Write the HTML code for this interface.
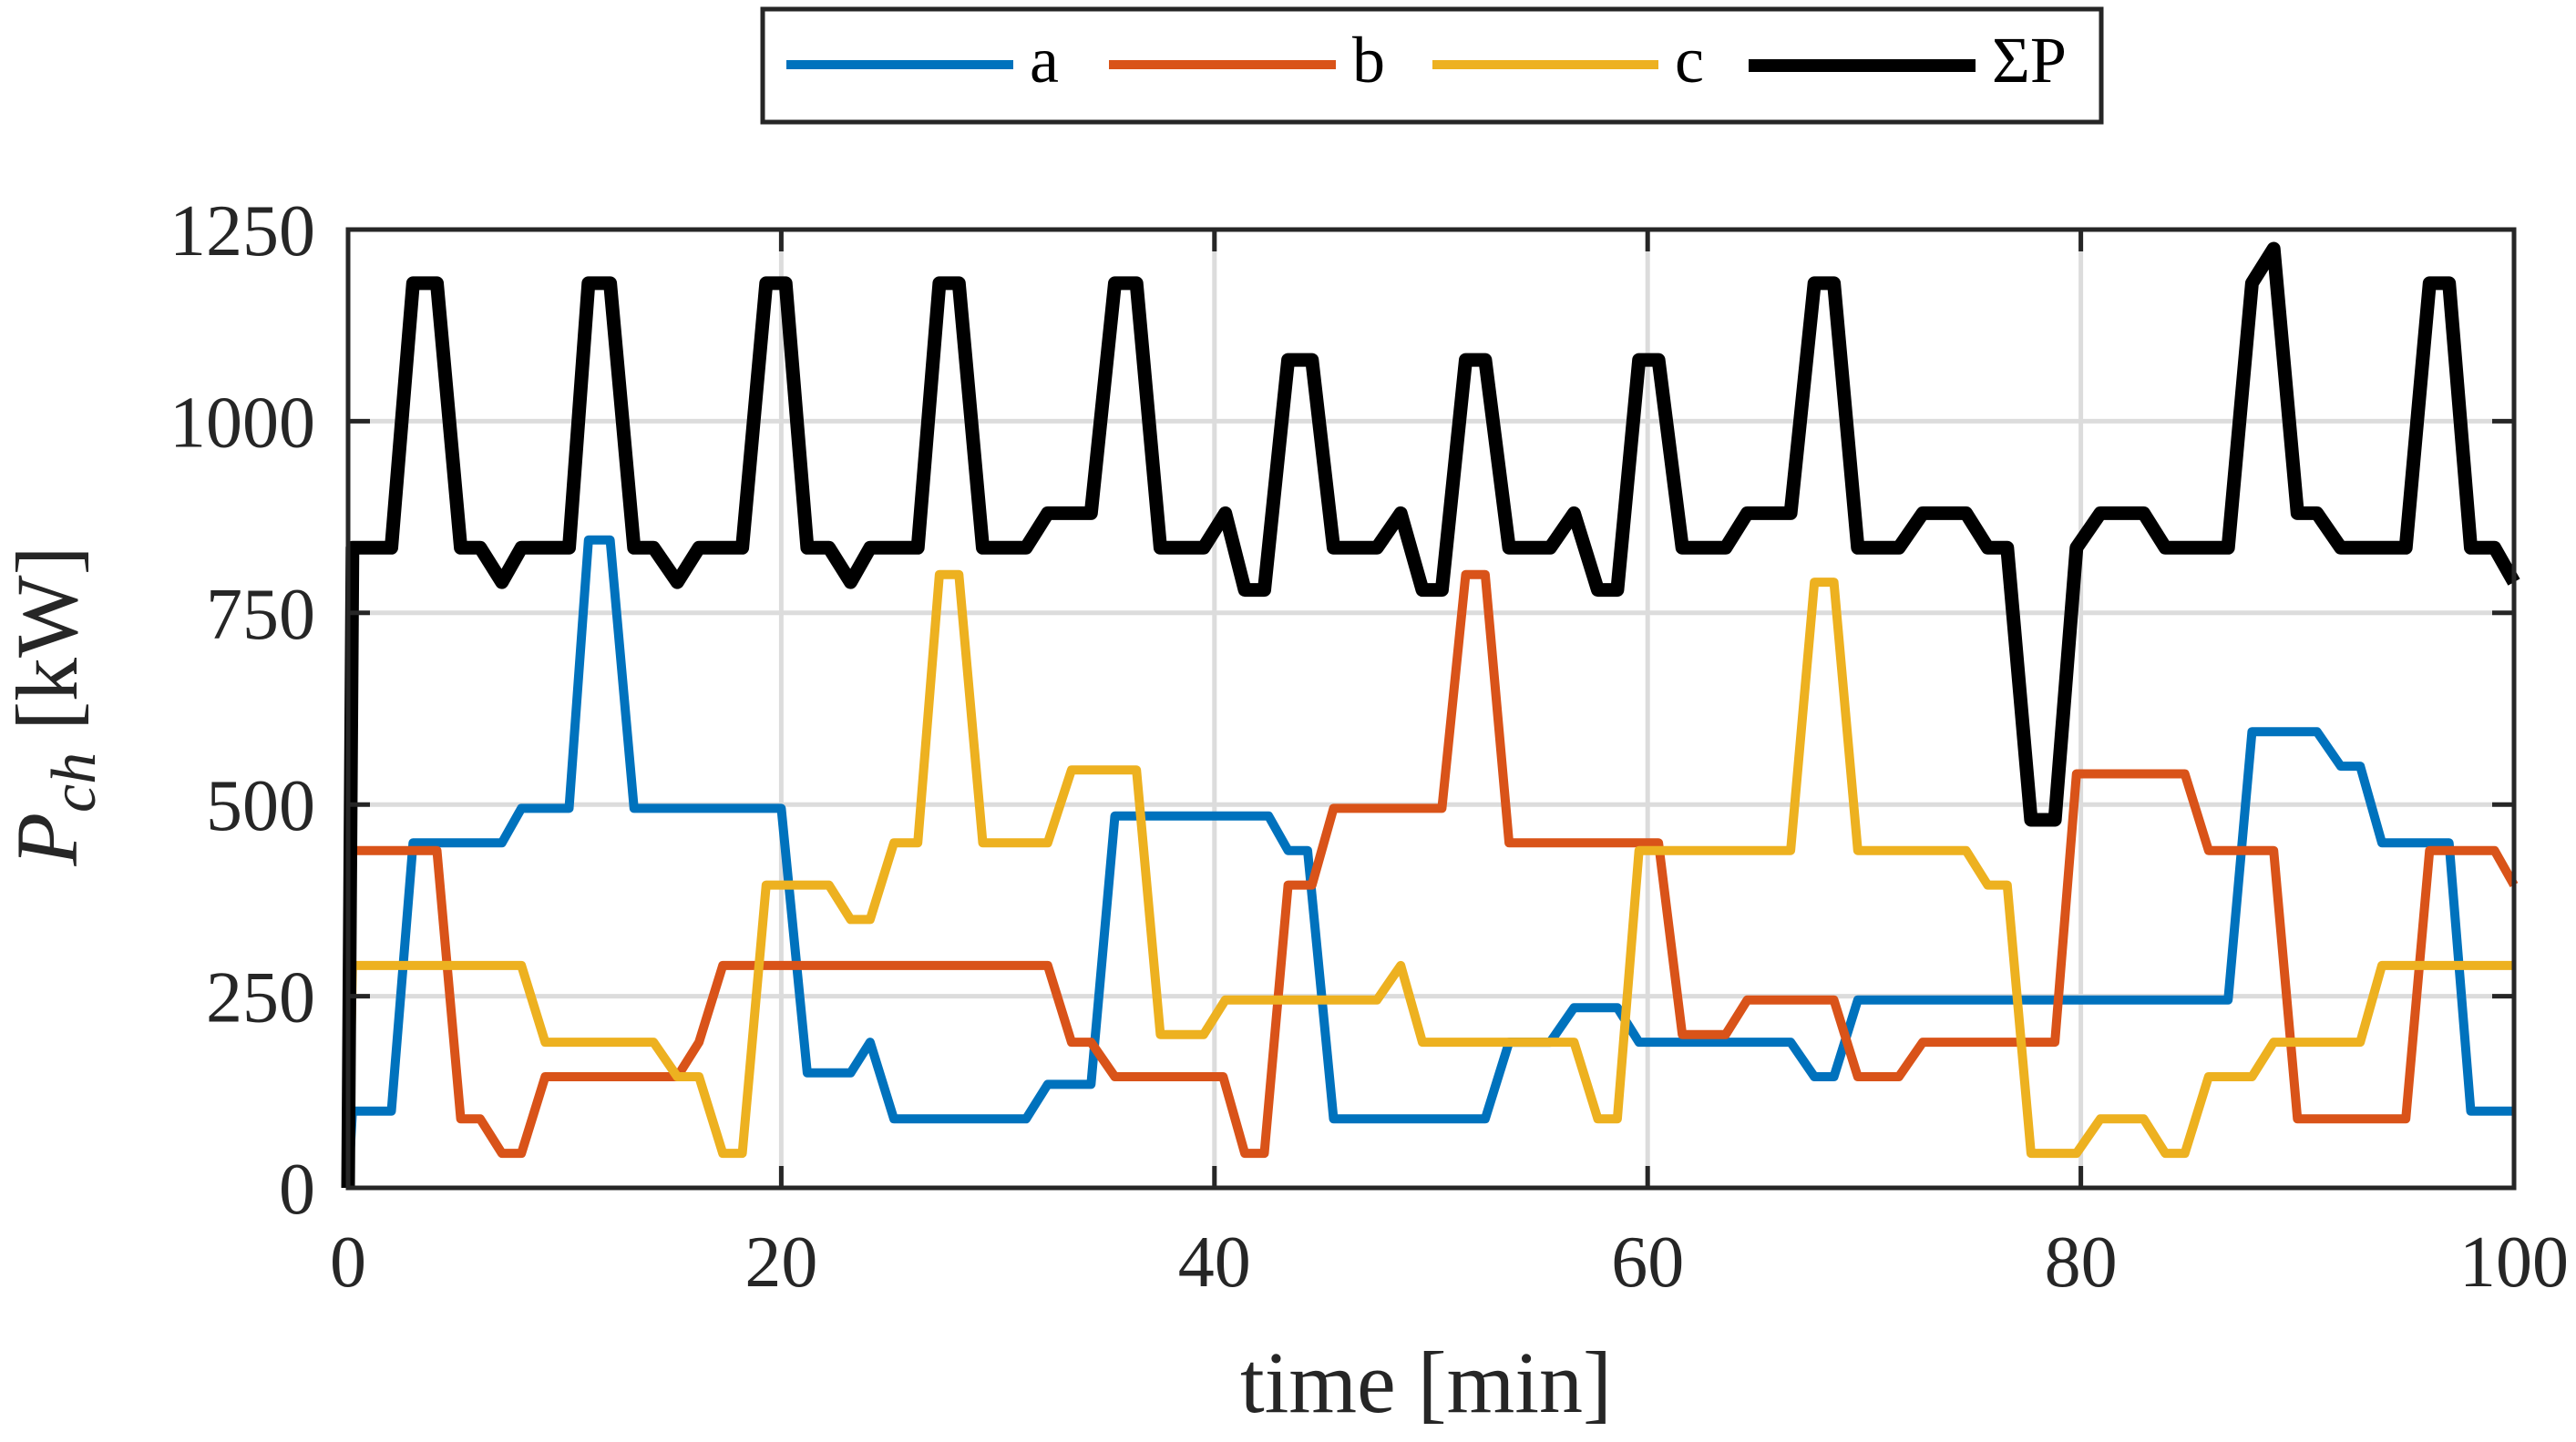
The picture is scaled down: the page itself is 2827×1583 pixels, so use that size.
<!DOCTYPE html>
<html><head><meta charset="utf-8"><style>
html,body{margin:0;padding:0;background:#fff;}
svg{display:block;font-family:"Liberation Serif",serif;}
</style></head><body>
<svg id="chart" width="2827" height="1583" viewBox="0 0 2827 1583" xmlns="http://www.w3.org/2000/svg">
<g id="grid"></g>
<g id="series"></g>
<rect x="382" y="252" width="2377" height="1052" fill="none" stroke="#262626" stroke-width="5"/>
<g id="ticks"></g>
<text x="1565" y="1550" font-size="96" text-anchor="middle" fill="#262626">time [min]</text>
<text transform="translate(84,775) rotate(-90)" font-size="96" text-anchor="middle" fill="#262626"><tspan font-style="italic">P</tspan><tspan font-style="italic" font-size="70" dy="20">ch</tspan><tspan dy="-20"> [kW]</tspan></text>
<g>
<rect x="837" y="10" width="1469" height="124" fill="#fff" stroke="#262626" stroke-width="5"/>
<line x1="863" y1="71" x2="1112" y2="71" stroke="#0072BD" stroke-width="10"/>
<text x="1130" y="90" font-size="72" fill="#000">a</text>
<line x1="1217" y1="71" x2="1466" y2="71" stroke="#D95319" stroke-width="10"/>
<text x="1484" y="90" font-size="72" fill="#000">b</text>
<line x1="1572" y1="71" x2="1820" y2="71" stroke="#EDB120" stroke-width="10"/>
<text x="1838" y="90" font-size="72" fill="#000">c</text>
<line x1="1919" y1="72" x2="2168" y2="72" stroke="#000" stroke-width="14"/>
<text x="2186" y="90" font-size="72" fill="#000">ΣP</text>
</g>
</svg>
<script>
const xTicks=[0,20,40,60,80,100];
const yTicks=[0,250,500,750,1000,1250];
const aT=[0,0.2,2.0,3.0,7.1,8.0,10.2,11.1,12.1,13.2,20.0,21.2,23.2,24.1,25.2,31.3,32.3,34.3,35.4,42.5,43.4,44.3,45.5,52.5,53.6,55.5,56.6,58.6,59.6,66.6,67.7,68.6,69.7,86.8,87.9,90.9,92.0,92.9,93.9,97.0,98.0,100];
const aV=[0,100,100,450,450,495,495,845,845,495,495,150,150,190,90,90,135,135,485,485,440,440,90,90,190,190,235,235,190,190,145,145,245,245,595,595,550,550,450,450,100,100];
const bT=[0,0.2,4.1,5.2,6.1,7.1,8.0,9.1,15.2,16.2,17.3,32.3,33.4,34.3,35.4,40.4,41.4,42.3,43.4,44.5,45.5,50.5,51.6,52.5,53.6,60.5,61.6,63.6,64.6,68.6,69.7,71.6,72.7,78.8,79.8,84.8,85.9,88.9,90.0,95.0,96.1,99.1,100];
const bV=[0,440,440,90,90,45,45,145,145,190,290,290,190,190,145,145,45,45,395,395,495,495,800,800,450,450,200,200,245,245,145,145,190,190,540,540,440,440,90,90,440,440,395];
const cT=[0,0.2,8.0,9.1,14.1,15.2,16.2,17.3,18.2,19.3,22.2,23.2,24.1,25.2,26.3,27.3,28.2,29.3,32.3,33.4,36.4,37.5,39.5,40.5,47.5,48.6,49.6,56.6,57.7,58.6,59.6,66.6,67.7,68.6,69.7,74.7,75.7,76.6,77.7,79.8,80.9,82.9,83.9,84.8,85.9,87.9,88.9,92.9,93.9,100];
const cV=[0,290,290,190,190,145,145,45,45,395,395,350,350,450,450,800,800,450,450,545,545,200,200,245,245,290,190,190,90,90,440,440,790,790,440,440,395,395,45,45,90,90,45,45,145,145,190,190,290,290];
const sT=[0,0.2,2.0,3.0,4.1,5.2,6.1,7.1,8.0,10.2,11.1,12.1,13.2,14.1,15.2,16.2,18.2,19.3,20.2,21.2,22.2,23.2,24.1,26.3,27.3,28.2,29.3,31.3,32.3,34.3,35.4,36.4,37.5,39.5,40.5,41.4,42.3,43.4,44.5,45.5,47.5,48.6,49.6,50.5,51.6,52.5,53.6,55.5,56.6,57.7,58.6,59.6,60.5,61.6,63.6,64.6,66.6,67.7,68.6,69.7,71.6,72.7,74.7,75.7,76.6,77.7,78.8,79.8,80.9,82.9,83.9,86.8,87.9,88.9,90.0,90.9,92.0,95.0,96.1,97.0,98.0,99.1,100];
const sV=[0,835,835,1180,1180,835,835,790,835,835,1180,1180,835,835,790,835,835,1180,1180,835,835,790,835,835,1180,1180,835,835,880,880,1180,1180,835,835,880,780,780,1080,1080,835,835,880,780,780,1080,1080,835,835,880,780,780,1080,1080,835,835,880,880,1180,1180,835,835,880,880,835,835,480,480,835,880,880,835,835,1180,1225,880,880,835,835,1180,1180,835,835,790];

const X0=382,X1=2759,Y0=1304,Y1=252;
function sx(t){return X0+(t-0)/(100-0)*(X1-X0);}
function sy(v){return Y0-(v-0)/(1250-0)*(Y0-Y1);}
const NS='http://www.w3.org/2000/svg';
const grid=document.getElementById('grid'),ticks=document.getElementById('ticks'),ser=document.getElementById('series');
function mk(tag,attrs,parent){const e=document.createElementNS(NS,tag);for(const k in attrs)e.setAttribute(k,attrs[k]);parent.appendChild(e);return e;}
xTicks.forEach(t=>{
  const x=sx(t);
  if(t>0&&t<100){const g=mk('line',{x1:x,y1:Y1,x2:x,y2:Y0,stroke:'#dcdcdc','stroke-width':5},grid);
  
  }
  const a=mk('line',{x1:x,y1:Y0,x2:x,y2:Y0-24,stroke:'#262626','stroke-width':5},ticks);
  
  
  const b=mk('line',{x1:x,y1:Y1,x2:x,y2:Y1+24,stroke:'#262626','stroke-width':5},ticks);
  
  
  const l=mk('text',{x:x,y:1412,'font-size':80,'text-anchor':'middle',fill:'#262626'},ticks);
  l.textContent=t;
  
  
});
yTicks.forEach(v=>{
  const y=sy(v);
  if(v>0&&v<1250){const g=mk('line',{x1:X0,y1:y,x2:X1,y2:y,stroke:'#dcdcdc','stroke-width':5},grid);
  
  }
  const a=mk('line',{x1:X0,y1:y,x2:X0+24,y2:y,stroke:'#262626','stroke-width':5},ticks);
  
  
  const b=mk('line',{x1:X1,y1:y,x2:X1-24,y2:y,stroke:'#262626','stroke-width':5},ticks);
  
  
  const l=mk('text',{x:346,y:y+28,'font-size':80,'text-anchor':'end',fill:'#262626'},ticks);
  l.textContent=v;
  
  
});
function line(T,V,color,w,name){
  const d=T.map((t,i)=>(i?'L':'M')+sx(t).toFixed(1)+','+sy(V[i]).toFixed(1)).join(' ');
  const p=mk('path',{d:d,fill:'none',stroke:color,'stroke-width':w,'stroke-linejoin':'round','stroke-linecap':'butt'},ser);
  
  
}
line(aT,aV,'#0072BD',10,'series-a-line');
line(bT,bV,'#D95319',10,'series-b-line');
line(cT,cV,'#EDB120',10,'series-c-line');
line(sT,sV,'#000000',15,'series-sum-line');
</script>
</body></html>
